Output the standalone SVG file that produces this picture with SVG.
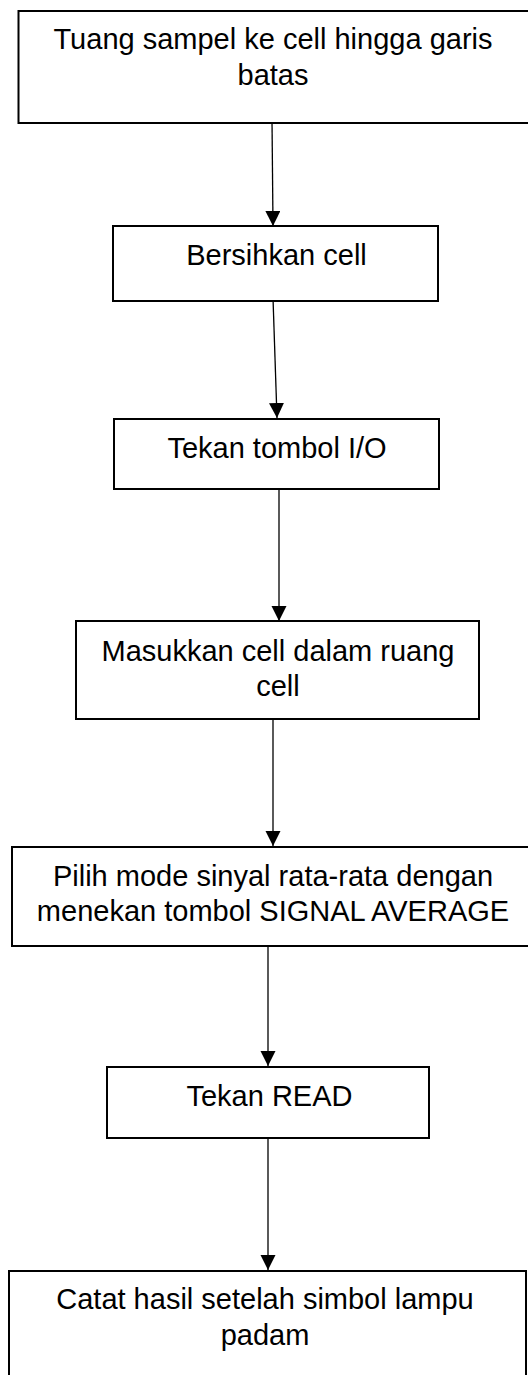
<svg xmlns="http://www.w3.org/2000/svg" width="528" height="1375" viewBox="0 0 528 1375">
<style>
.box{fill:#fff;stroke:#000;stroke-width:2}
.t{font-family:"Liberation Sans",Arial,sans-serif;font-size:29px;fill:#000;text-anchor:middle}
.c{stroke:#000;stroke-width:1.3;fill:none}
</style>
<defs>
<marker id="ah" markerUnits="userSpaceOnUse" markerWidth="16" markerHeight="16" refX="15" refY="7.5" orient="auto">
<path d="M0,0 L15,7.5 L0,15 Z" fill="#000"/>
</marker>
</defs>
<rect width="528" height="1375" fill="#fff"/>
<g id="connectors">
<line class="c" x1="272" y1="120" x2="273" y2="226" marker-end="url(#ah)"/>
<line class="c" x1="273" y1="298" x2="277" y2="418" marker-end="url(#ah)"/>
<line class="c" x1="279" y1="489" x2="279" y2="621" marker-end="url(#ah)"/>
<line class="c" x1="273" y1="719" x2="273" y2="846" marker-end="url(#ah)"/>
<line class="c" x1="268" y1="946" x2="268" y2="1066" marker-end="url(#ah)"/>
<line class="c" x1="268" y1="1135" x2="268" y2="1270" marker-end="url(#ah)"/>
</g>
<g id="n1">
<rect class="box" x="18.5" y="11" width="515" height="112"/>
<text class="t" x="273" y="49">Tuang sampel ke cell hingga garis</text>
<text class="t" x="273" y="85">batas</text>
</g>
<g id="n2">
<rect class="box" x="113" y="226" width="325" height="75"/>
<text class="t" x="276.5" y="265">Bersihkan cell</text>
</g>
<g id="n3">
<rect class="box" x="114" y="419" width="325" height="70"/>
<text class="t" x="277" y="458">Tekan tombol I/O</text>
</g>
<g id="n4">
<rect class="box" x="76" y="621" width="403" height="98"/>
<text class="t" x="278" y="661">Masukkan cell dalam ruang</text>
<text class="t" x="278" y="696">cell</text>
</g>
<g id="n5">
<rect class="box" x="12" y="847" width="525" height="99"/>
<text class="t" x="273" y="886">Pilih mode sinyal rata-rata dengan</text>
<text class="t" x="273" y="921">menekan tombol SIGNAL AVERAGE</text>
</g>
<g id="n6">
<rect class="box" x="107" y="1067" width="322" height="71"/>
<text class="t" x="269.5" y="1106">Tekan READ</text>
</g>
<g id="n7">
<rect class="box" x="9" y="1271" width="517" height="120"/>
<text class="t" x="265" y="1309">Catat hasil setelah simbol lampu</text>
<text class="t" x="265" y="1345">padam</text>
</g>
</svg>
